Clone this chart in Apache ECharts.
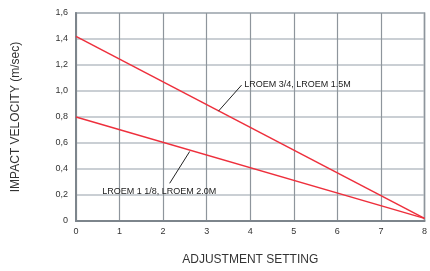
<!DOCTYPE html>
<html>
<head>
<meta charset="utf-8">
<script src="https://cdn.jsdelivr.net/npm/echarts@6/dist/echarts.min.js"></script>
<style>
html,body{margin:0;padding:0;background:#fff;}
#chart{width:430px;height:271px;}
</style>
</head>
<body>
<div id="chart"></div>
<script>
// settings on the x axis, velocities
var settings = [0, 8];
var lineA = [1.42, 0.02]; // LROEM 3/4, LROEM 1.5M
var lineB = [0.80, 0.02]; // LROEM 1 1/8, LROEM 2.0M
var xTicks = [0, 1, 2, 3, 4, 5, 6, 7, 8];
var yTicks = [0, 0.2, 0.4, 0.6, 0.8, 1.0, 1.2, 1.4, 1.6];

// callouts: leader line [pointOnLine, leaderEnd], text anchor, text
var calloutA = [[3.27, 0.845], [3.80, 1.045]];
var calloutAAnchor = [3.86, 1.05];
var calloutAText = 'LROEM 3/4, LROEM 1.5M';
var calloutB = [[2.61, 0.535], [2.15, 0.29]];
var calloutBAnchor = [1.91, 0.225];
var calloutBText = 'LROEM 1 1/8, LROEM 2.0M';

function pairs(xs, ys){
	var out = [];
	for (var i = 0; i < xs.length; i++) out.push([xs[i], ys[i]]);
	return out;
}

var chart = echarts.init(document.getElementById('chart'));
var font = 'Liberation Sans, Arial, sans-serif';

function callout(points, anchor, text, pos){
	return {
		type: 'line', data: points, symbol: 'none',
		lineStyle: {color: '#222', width: 1}, z: 6,
		markPoint: {
			symbol: 'circle', symbolSize: 0, animation: false,
			data: [{coord: anchor, value: text}],
			label: {show: true, formatter: text, fontSize: 9, color: '#222',
				position: pos, distance: 0, fontFamily: font}
		}
	};
}

var option = {
	animation: false,
	textStyle: {fontFamily: font},
	grid: {left: 76, right: 2, top: 13, bottom: 42, show: true,
		borderColor: '#7d858c', borderWidth: 1.5, backgroundColor: 'transparent'},
	xAxis: {
		type: 'value', min: 0, max: 8, interval: 1,
		name: 'ADJUSTMENT SETTING', nameLocation: 'middle', nameGap: 33,
		nameTextStyle: {fontSize: 12, color: '#333', fontFamily: font},
		axisLine: {show: true, lineStyle: {color: '#7d858c', width: 2}},
		axisTick: {show: false},
		axisLabel: {fontSize: 9, color: '#333', margin: 6,
			formatter: function(v){ return xTicks.indexOf(v) >= 0 ? String(v) : ''; }},
		splitLine: {show: true, lineStyle: {color: '#8e959c', width: 1.2}}
	},
	yAxis: {
		type: 'value', min: 0, max: 1.6, interval: 0.2,
		name: 'IMPACT VELOCITY (m/sec)', nameLocation: 'middle', nameGap: 54,
		nameTextStyle: {fontSize: 12, color: '#333', fontFamily: font},
		axisLine: {show: true, lineStyle: {color: '#7d858c', width: 2}},
		axisTick: {show: false},
		axisLabel: {fontSize: 9, color: '#333', margin: 8,
			formatter: function(v){
				var t = yTicks.filter(function(y){ return Math.abs(y - v) < 1e-6; });
				if (!t.length) return '';
				return v === 0 ? '0' : v.toFixed(1).replace('.', ',');
			}},
		splitLine: {show: true, lineStyle: {color: '#b8bfc6', width: 1.5}}
	},
	series: [
		{
			type: 'line', data: pairs(settings, lineA), symbol: 'none',
			lineStyle: {color: '#ee2f3c', width: 1.5}, z: 5
		},
		{
			type: 'line', data: pairs(settings, lineB), symbol: 'none',
			lineStyle: {color: '#ee2f3c', width: 1.5}, z: 5
		},
		callout(calloutA, calloutAAnchor, calloutAText, 'right'),
		callout(calloutB, calloutBAnchor, calloutBText, 'inside')
	]
};
chart.setOption(option);
</script>
</body>
</html>
